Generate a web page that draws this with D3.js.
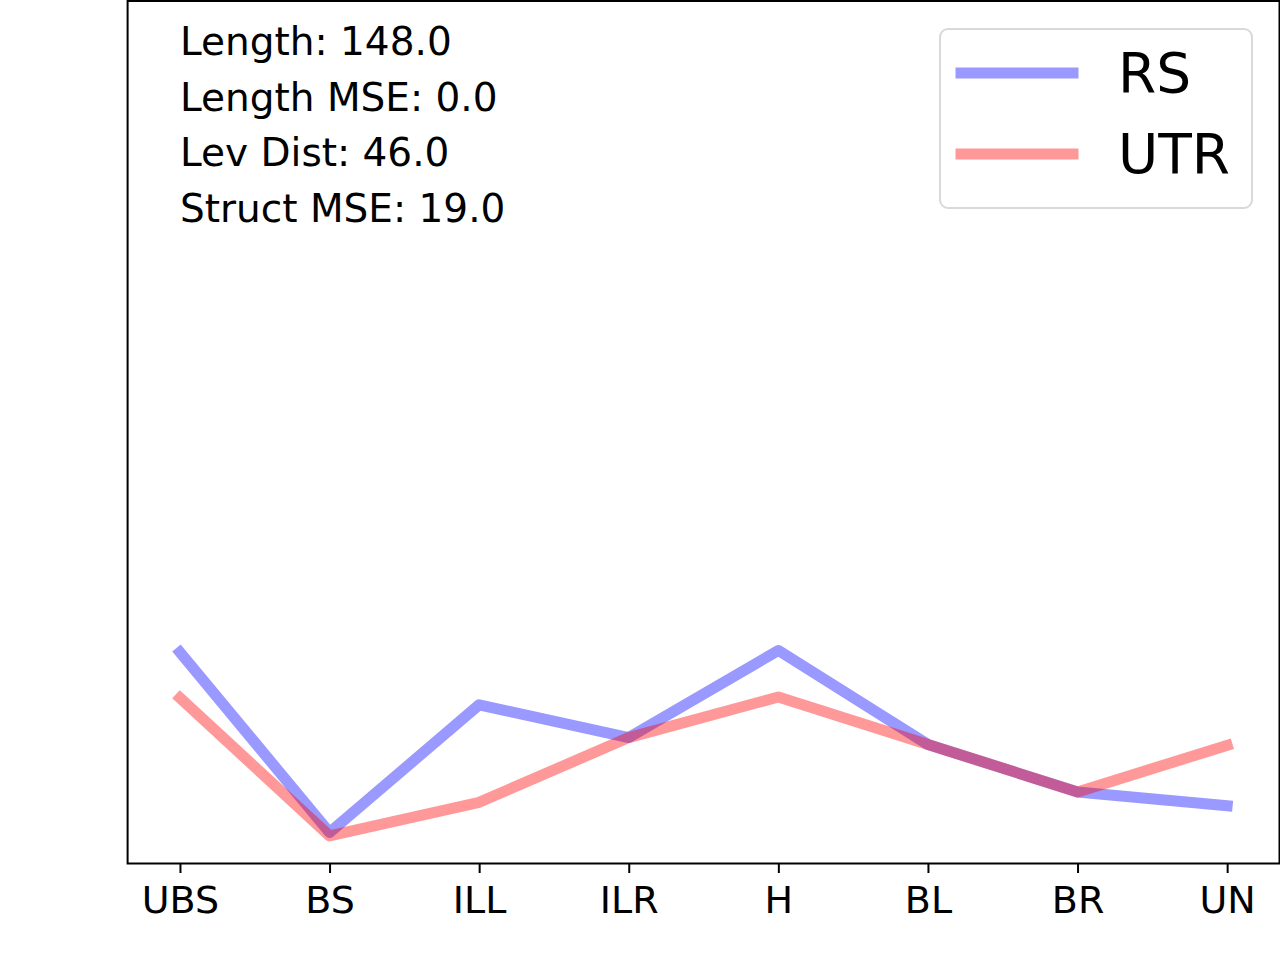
<!DOCTYPE html>
<html>
<head>
<meta charset="utf-8">
<script src="https://cdn.jsdelivr.net/npm/d3@7"></script>
<style>
	body { margin: 0; background: #fff; }
	text { font-family: "DejaVu Sans", sans-serif; }
</style>
</head>
<body>
<div id="chart"></div>
<script>
// structure categories along the x axis
var categories = ["UBS", "BS", "ILL", "ILR", "H", "BL", "BR", "UN"];
var seriesNames = ["RS", "UTR"];
var rsValues = [24.5, 3.6, 18.4, 14.6, 24.7, 13.8, 8.3, 6.7];
var utrValues = [19.2, 3.2, 7.1, 14.6, 19.3, 13.8, 8.3, 13.7];
var statLines = ["Length: 148.0", "Length MSE: 0.0", "Lev Dist: 46.0", "Struct MSE: 19.0"];

(function() {
	var w = 1280,
		h = 960,
		left = 127.6,
		right = 1279.5,
		top = 1,
		bottom = 863.5,
		lineWidth = 11;

	var svg = d3.select("#chart")
		.append("svg")
		.attr("width", w)
		.attr("height", h)
		.style("background", "white");

	var x = d3.scaleLinear()
		.domain([-0.35, categories.length - 1 + 0.35])
		.range([left, right]);

	var y = d3.scaleLinear()
		.domain([0, 100])
		.range([bottom, top]);

	var series = [
		{ name: seriesNames[0], values: rsValues, color: "rgb(0,0,255)" },
		{ name: seriesNames[1], values: utrValues, color: "rgb(255,0,0)" }
	];

	var line = d3.line()
		.x(function(d, i) { return x(i); })
		.y(function(d) { return y(d); });

	svg.selectAll("path.series")
		.data(series)
		.enter().append("path")
		.attr("class", "series")
		.attr("d", function(d) { return line(d.values); })
		.attr("fill", "none")
		.attr("stroke", function(d) { return d.color; })
		.attr("stroke-opacity", 0.4)
		.attr("stroke-width", lineWidth)
		.attr("stroke-linecap", "square")
		.attr("stroke-linejoin", "round");

	// frame
	svg.append("rect")
		.attr("x", left)
		.attr("y", top)
		.attr("width", right - left)
		.attr("height", bottom - top)
		.attr("fill", "none")
		.attr("stroke", "black")
		.attr("stroke-width", 2);

	var xAxis = d3.axisBottom(x)
		.tickValues(d3.range(categories.length))
		.tickFormat(function(d) { return categories[d]; })
		.tickSize(9.5)
		.tickSizeOuter(0);

	var gx = svg.append("g")
		.attr("transform", "translate(0," + bottom + ")")
		.call(xAxis);
	gx.select(".domain").remove();
	gx.selectAll(".tick line").attr("stroke", "black").attr("stroke-width", 2);
	gx.selectAll(".tick text")
		.attr("font-family", "DejaVu Sans")
		.attr("font-size", "38px")
		.attr("fill", "black")
		.attr("y", 49)
		.attr("dy", 0);

	// stats text top left
	svg.selectAll("text.stat")
		.data(statLines)
		.enter().append("text")
		.attr("class", "stat")
		.attr("x", 180)
		.attr("y", function(d, i) { return 55 + i * 55.6; })
		.attr("font-size", "39px")
		.attr("fill", "black")
		.text(function(d) { return d; });

	// legend
	var legend = svg.append("g");
	legend.append("rect")
		.attr("x", 940)
		.attr("y", 29)
		.attr("width", 312)
		.attr("height", 179)
		.attr("rx", 8)
		.attr("fill", "white")
		.attr("fill-opacity", 0.8)
		.attr("stroke", "#d9d9d9")
		.attr("stroke-width", 2);

	var items = legend.selectAll("g.item")
		.data(series)
		.enter().append("g")
		.attr("class", "item")
		.attr("transform", function(d, i) {
			return "translate(0," + (73 + i * 81) + ")";
		});

	items.append("line")
		.attr("x1", 961)
		.attr("x2", 1073)
		.attr("y1", 0)
		.attr("y2", 0)
		.attr("stroke", function(d) { return d.color; })
		.attr("stroke-opacity", 0.4)
		.attr("stroke-width", lineWidth)
		.attr("stroke-linecap", "square");

	items.append("text")
		.attr("x", 1118)
		.attr("y", 19)
		.attr("font-size", "55px")
		.attr("fill", "black")
		.text(function(d) { return d.name; });
})();
</script>
</body>
</html>
